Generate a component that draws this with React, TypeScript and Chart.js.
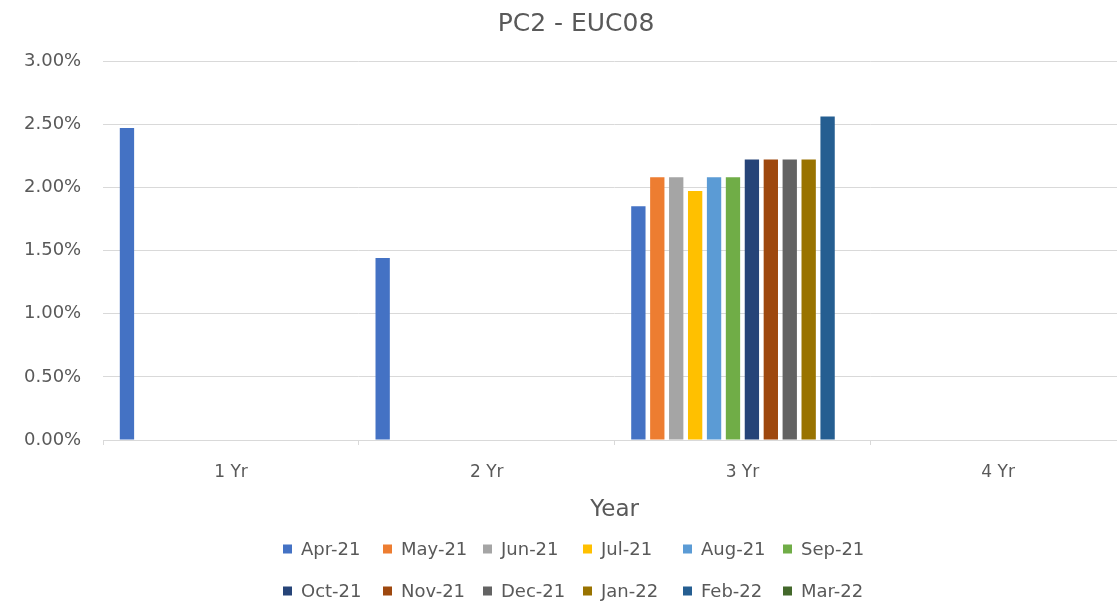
import React, { useEffect, useRef } from "react";
import { Chart, registerables } from "chart.js";

Chart.register(...registerables);

const chartTitle = "PC2 - EUC08";
const categories = ["1 Yr", "2 Yr", "3 Yr", "4 Yr"];
const seriesNames = [
  "Apr-21", "May-21", "Jun-21", "Jul-21", "Aug-21", "Sep-21",
  "Oct-21", "Nov-21", "Dec-21", "Jan-22", "Feb-22", "Mar-22",
];
const seriesColors = [
  "#4472C4", "#ED7D31", "#A5A5A5", "#FFC000", "#5B9BD5", "#70AD47",
  "#264478", "#9E480E", "#636363", "#997300", "#255E91", "#43682B",
];
// values in percent, per series, per category (1 Yr, 2 Yr, 3 Yr, 4 Yr)
const apr21 = [2.47, 1.44, 1.85, null];
const may21 = [null, null, 2.08, null];
const jun21 = [null, null, 2.08, null];
const jul21 = [null, null, 1.97, null];
const aug21 = [null, null, 2.08, null];
const sep21 = [null, null, 2.08, null];
const oct21 = [null, null, 2.22, null];
const nov21 = [null, null, 2.22, null];
const dec21 = [null, null, 2.22, null];
const jan22 = [null, null, 2.22, null];
const feb22 = [null, null, 2.56, null];
const mar22 = [null, null, null, null];
const seriesValues = [apr21, may21, jun21, jul21, aug21, sep21, oct21, nov21, dec21, jan22, feb22, mar22];

const yTicks = [0, 0.5, 1, 1.5, 2, 2.5, 3];

const FONT = '"DejaVu Sans", sans-serif';
const TEXT = "#595959";
const GRID = "#d9d9d9";

const titleAndLegendPlugin = {
  id: "excelTitleLegend",
  afterDraw(chart: any) {
    const ctx = chart.ctx as CanvasRenderingContext2D;
    const cx = chart.width / 2;
    ctx.save();
    // title
    ctx.font = `25px ${FONT}`;
    ctx.fillStyle = TEXT;
    ctx.textAlign = "center";
    ctx.textBaseline = "middle";
    ctx.fillText(chartTitle, cx, 24);
    // legend
    ctx.font = `18px ${FONT}`;
    ctx.textAlign = "left";
    chart.data.datasets.forEach((ds: any, i: number) => {
      const row = Math.floor(i / 6);
      const col = i % 6;
      const bx = cx - 300 + col * 100 + 7;
      const y = row === 0 ? chart.height - 54 : chart.height - 12;
      ctx.fillStyle = ds.backgroundColor;
      ctx.fillRect(bx, y - 4.5, 9, 9);
      ctx.fillStyle = TEXT;
      ctx.fillText(ds.label, bx + 18, y + 1);
    });
    ctx.restore();
  },
};

export default function App() {
  const ref = useRef<HTMLCanvasElement>(null);
  useEffect(() => {
    if (!ref.current) return;
    const chart = new Chart(ref.current, {
      type: "bar",
      data: {
        labels: categories,
        datasets: seriesNames.map((name, i) => ({
          label: name,
          data: seriesValues[i],
          backgroundColor: seriesColors[i],
          borderWidth: 0,
          categoryPercentage: 0.888,
          barPercentage: 0.757,
        })),
      },
      plugins: [titleAndLegendPlugin],
      options: {
        animation: false,
        responsive: false,
        devicePixelRatio: 1,
        layout: { padding: { left: 2, right: 26, top: 61, bottom: 79 } },
        plugins: {
          legend: { display: false },
          tooltip: { enabled: false },
          title: { display: false },
        },
        scales: {
          x: {
            grid: {
              display: true,
              drawOnChartArea: false,
              drawTicks: true,
              tickLength: 5,
              color: GRID,
            },
            border: { display: true, color: GRID },
            ticks: {
              color: TEXT,
              font: { family: FONT, size: 17 },
              padding: 17,
            },
            title: {
              display: true,
              text: "Year",
              color: TEXT,
              font: { family: FONT, size: 23 },
              padding: { top: -3, bottom: 0 },
            },
          },
          y: {
            min: 0,
            max: 3,
            afterBuildTicks(scale: any) {
              scale.ticks = yTicks.map((v) => ({ value: v }));
            },
            grid: { color: GRID, drawTicks: false },
            border: { display: false },
            ticks: {
              color: TEXT,
              font: { family: FONT, size: 18 },
              padding: 22,
              callback: (v: any) => Number(v).toFixed(2) + "%",
            },
          },
        },
      },
    });
    return () => chart.destroy();
  }, []);
  return (
    <div style={{ position: "fixed", left: 0, top: 0, width: 1117, height: 603, overflow: "hidden", background: "#fff" }}>
      <canvas ref={ref} width={1152} height={603} style={{ display: "block" }} />
    </div>
  );
}
